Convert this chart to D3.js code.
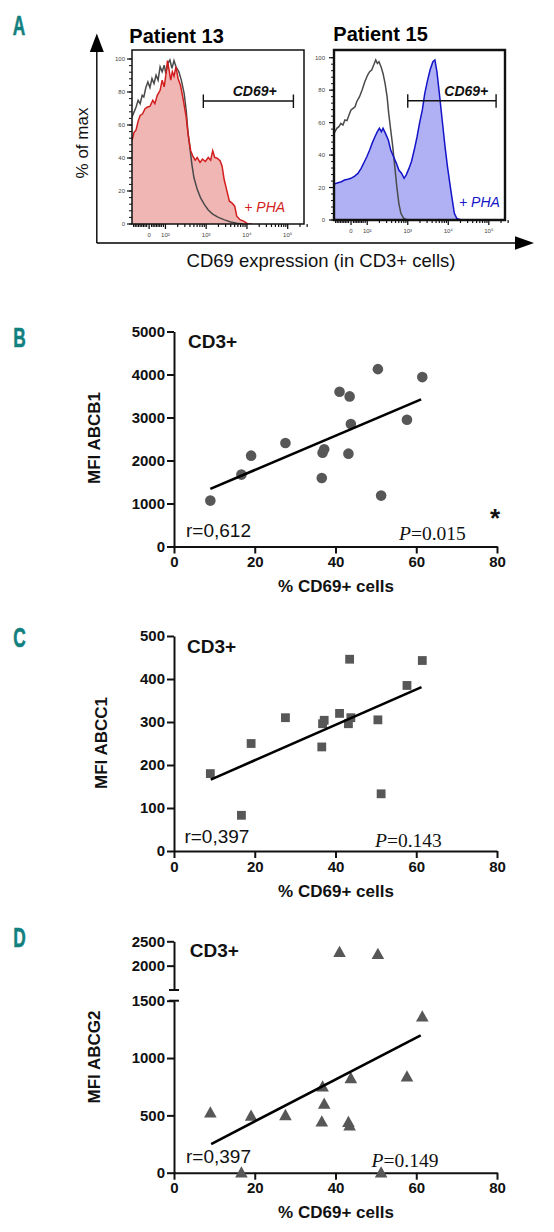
<!DOCTYPE html>
<html><head><meta charset="utf-8">
<script src="https://cdn.jsdelivr.net/npm/d3@7"></script>
<style>body{margin:0;background:#fff;} svg{display:block;} svg{font-family:"Liberation Sans",Arial,sans-serif;}</style>
</head><body>
<script>
// ---------------- DATA ----------------
// Panel A: flow histograms, x in display units (logicle decades), y in % of max
const histXTickVals = [1.6, 2, 3, 4, 5];
const histXTickLabels = ["0", "10²", "10³", "10⁴", "10⁵"];
const histYTickVals = [0, 20, 40, 60, 80, 100];
const histLinMinorTicks = [1.22, 1.26, 1.3, 1.34, 1.38, 1.42, 1.46, 1.5, 1.54, 1.66, 1.7, 1.74, 1.78, 1.82, 1.86, 1.9, 1.95];
const logMinorMultipliers = [2, 3, 4, 5, 6, 7, 8, 9];
const p13Unstim = [[1.18,64.8],[1.23,67.8],[1.28,70.9],[1.33,75],[1.38,72.9],[1.43,78],[1.47,77],[1.52,82.7],[1.57,86.1],[1.62,82.7],[1.67,88.2],[1.72,85.1],[1.77,90.2],[1.82,87.2],[1.87,95.3],[1.92,92.3],[1.97,96.3],[2.01,91.2],[2.06,97.4],[2.11,99.4],[2.16,94.3],[2.21,99],[2.26,95.3],[2.33,92.3],[2.39,87.2],[2.46,79],[2.51,68.8],[2.55,56.6],[2.6,46.4],[2.65,36],[2.7,28],[2.78,21],[2.86,16],[2.95,12],[3.05,8.5],[3.16,6],[3.3,4],[3.45,2.5],[3.6,1.2],[3.75,0.4],[3.9,0]];
const p13PHA = [[1.18,50.5],[1.23,55.6],[1.28,57],[1.33,62.3],[1.38,65.8],[1.44,66.8],[1.5,69.9],[1.56,70.9],[1.62,71.3],[1.69,75],[1.74,72.9],[1.8,78],[1.87,81],[1.92,87.2],[1.97,83.1],[2.01,90.2],[2.05,99],[2.09,93.3],[2.13,87.2],[2.17,92.3],[2.21,89.6],[2.26,95.3],[2.31,88.2],[2.37,84.1],[2.44,75],[2.51,64.8],[2.56,53.6],[2.62,44.4],[2.67,41.3],[2.73,38.7],[2.78,40.3],[2.85,37.3],[2.91,39.3],[2.98,37.9],[3.05,40.3],[3.11,38.7],[3.16,44.4],[3.21,40.3],[3.27,39.9],[3.34,38.3],[3.39,35.2],[3.44,27.1],[3.5,21],[3.57,13.8],[3.63,12.8],[3.7,10.8],[3.75,4.7],[3.83,2.6],[3.93,1.6],[4.01,0.2],[4.12,0]];
const p15Unstim = [[1.18,53.4],[1.25,56.5],[1.3,57.5],[1.35,59.5],[1.4,58.5],[1.45,61.6],[1.5,61.2],[1.55,64.7],[1.6,67.8],[1.65,68.8],[1.7,69.8],[1.74,72.9],[1.81,76],[1.88,80.5],[1.94,85.2],[2.01,89.3],[2.06,91.4],[2.11,92.4],[2.16,95.5],[2.21,98.6],[2.25,96.5],[2.29,97.5],[2.34,94.5],[2.39,90.3],[2.44,84.2],[2.49,76],[2.53,65.7],[2.58,55.4],[2.63,45.2],[2.68,32.9],[2.73,20.5],[2.78,10.3],[2.83,4.1],[2.9,1],[3.0,0]];
const p15PHA = [[1.18,22.2],[1.28,23],[1.36,23.6],[1.44,24.6],[1.52,25.1],[1.6,25.7],[1.69,27.1],[1.77,28.7],[1.85,31.8],[1.93,35.9],[1.99,39],[2.06,43.1],[2.12,47.2],[2.19,51.3],[2.25,54.4],[2.3,56.5],[2.35,54.4],[2.39,56.5],[2.45,53.4],[2.52,49.3],[2.58,43.1],[2.65,39],[2.72,34.9],[2.78,30.8],[2.85,28.7],[2.91,25.7],[2.96,27.7],[3.03,31.8],[3.09,35.9],[3.16,43.1],[3.23,51.3],[3.29,59.5],[3.36,67.8],[3.42,78],[3.49,86.2],[3.55,92.4],[3.62,97.5],[3.67,98.6],[3.72,91.4],[3.78,78],[3.85,61.6],[3.92,45.2],[3.98,32.9],[4.05,20.5],[4.1,12.3],[4.15,4.1],[4.21,1],[4.32,0]];
const gateP13 = [2.93, 5.14];
const gateP15 = [3.0, 5.18];

// Panels B-D: % CD69+ cells vs MFI
const pctCD69 = [9.0, 16.7, 19.1, 27.6, 36.6, 36.8, 37.2, 41.0, 43.2, 43.5, 43.8, 50.5, 51.3, 57.7, 61.5];
const mfiABCB1 = [1068, 1672, 2113, 2407, 1594, 2180, 2260, 3600, 2159, 3491, 2848, 4125, 1184, 2949, 3940];
const mfiABCC1 = [180, 83, 250, 310, 242, 296, 304, 320, 296, 446, 310, 305, 133, 385, 443];
const mfiABCG2 = [523, 0, 494, 500, 445, 750, 599, 2274, 440, 410, 823, 2233, 0, 837, 1360];
const fitABCB1 = [[9.0, 1339], [61.2, 3421]];
const fitABCC1 = [[9.1, 166], [61.3, 381]];
const fitABCG2 = [[9.2, 250], [61.1, 1198]];
const xTicks = [0, 20, 40, 60, 80];
const yTicksB = [0, 1000, 2000, 3000, 4000, 5000];
const yTicksC = [0, 100, 200, 300, 400, 500];
const yTicksDLow = [0, 500, 1000, 1500];
const yTicksDHigh = [2000, 2500];

// ---------------- DRAW ----------------
const svg = d3.select("body").append("svg").attr("width", 554).attr("height", 1232);
svg.append("rect").attr("width", 554).attr("height", 1232).attr("fill", "#fff");
const teal = "#12807e";
const SANS = '"Liberation Sans",Arial,sans-serif';
const SERIF = '"Liberation Serif","Times New Roman",serif';

function panelLetter(t, cx, by) {
  svg.append("text").text(t)
    .attr("transform", `translate(${cx},${by}) scale(0.64,1)`)
    .attr("text-anchor", "middle").attr("font-size", 27).attr("font-weight", "bold").attr("fill", teal)
    .attr("stroke", teal).attr("stroke-width", 0.6);
}
panelLetter("A", 19, 35);
panelLetter("B", 19.5, 347);
panelLetter("C", 19.5, 647);
panelLetter("D", 19.5, 947);

// big arrows of panel A
svg.append("line").attr("x1", 96.8).attr("x2", 96.8).attr("y1", 50).attr("y2", 243).attr("stroke", "#000").attr("stroke-width", 1.4);
svg.append("line").attr("x1", 96.8).attr("x2", 518).attr("y1", 243).attr("y2", 243).attr("stroke", "#000").attr("stroke-width", 1.4);
svg.append("path").attr("d", "M96.8,33.5 L89.8,52 L103.8,52 Z").attr("fill", "#000");
svg.append("path").attr("d", "M534,243 L515,236.3 L515,249.7 Z").attr("fill", "#000");
svg.append("text").text("% of max").attr("transform", "translate(82.5,143) rotate(-90)")
  .attr("text-anchor", "middle").attr("dominant-baseline", "central").attr("font-size", 17).attr("fill", "#111");
svg.append("text").text("CD69 expression (in CD3+ cells)").attr("x", 321).attr("y", 267)
  .attr("text-anchor", "middle").attr("font-size", 18.5).attr("fill", "#111");

function hist(o) {
  const g = svg.append("g");
  const x = d3.scaleLinear().domain([1.18, 5.4]).range([o.left, o.right]);
  const y = d3.scaleLinear().domain([0, 100]).range([o.y0, o.y100]);
  const cid = "clip" + o.id;
  svg.append("clipPath").attr("id", cid).append("rect")
    .attr("x", o.left).attr("y", o.top).attr("width", o.right - o.left).attr("height", o.y0 - o.top);
  const pg = g.append("g").attr("clip-path", `url(#${cid})`);
  const area = d3.area().x(d => x(d[0])).y0(y(0)).y1(d => y(d[1]));
  const line = d3.line().x(d => x(d[0])).y(d => y(d[1]));
  pg.append("path").attr("d", area(o.stim)).attr("fill", o.fill);
  pg.append("path").attr("d", line(o.unstim)).attr("fill", "none").attr("stroke", "#4a4a4a").attr("stroke-width", 1.5);
  pg.append("path").attr("d", line(o.stim)).attr("fill", "none").attr("stroke", o.color).attr("stroke-width", 1.5);
  // frame
  g.append("path").attr("d", `M${o.left},${o.y0} V${o.top} H${o.right} V${o.y0} Z`)
    .attr("fill", "none").attr("stroke", "#111").attr("stroke-width", o.sw);
  // y ticks
  for (let v = 0; v <= 100; v += 4) {
    g.append("line").attr("x1", o.left).attr("x2", o.left - 3).attr("y1", y(v)).attr("y2", y(v)).attr("stroke", "#111").attr("stroke-width", 1);
  }
  histYTickVals.forEach(v => {
    g.append("line").attr("x1", o.left).attr("x2", o.left - 5).attr("y1", y(v)).attr("y2", y(v)).attr("stroke", "#111").attr("stroke-width", 1.2);
    g.append("text").text(v).attr("x", o.left - o.lblGap).attr("y", y(v) + 2).attr("text-anchor", "end")
      .attr("font-size", 6).attr("fill", "#444");
  });
  // x ticks
  const minors = histLinMinorTicks.slice();
  [2, 3, 4].forEach(n => logMinorMultipliers.forEach(k => minors.push(n + Math.log10(k))));
  [5].forEach(n => [2, 3].forEach(k => minors.push(n + Math.log10(k))));
  minors.forEach(v => {
    g.append("line").attr("x1", x(v)).attr("x2", x(v)).attr("y1", o.y0).attr("y2", o.y0 + 3).attr("stroke", "#111").attr("stroke-width", 1.2);
  });
  histXTickVals.forEach((v, i) => {
    g.append("line").attr("x1", x(v)).attr("x2", x(v)).attr("y1", o.y0).attr("y2", o.y0 + 5).attr("stroke", "#111").attr("stroke-width", 1.3);
    g.append("text").text(histXTickLabels[i]).attr("x", x(v)).attr("y", o.y0 + o.xlblDy).attr("text-anchor", "middle")
      .attr("font-size", 6).attr("fill", "#444");
  });
  // gate
  const gx0 = x(o.gate[0]), gx1 = x(o.gate[1]);
  g.append("line").attr("x1", gx0).attr("x2", gx1).attr("y1", o.gateY).attr("y2", o.gateY).attr("stroke", "#111").attr("stroke-width", 1.4);
  [gx0, gx1].forEach(gx => g.append("line").attr("x1", gx).attr("x2", gx).attr("y1", o.gateY - 6.5).attr("y2", o.gateY + 7).attr("stroke", "#111").attr("stroke-width", 1.4));
  g.append("text").text("CD69+").attr("x", o.gateLblX).attr("y", 95.7).attr("font-size", 14)
    .attr("font-weight", "bold").attr("font-style", "italic").attr("fill", "#111");
  g.append("text").text("+ PHA").attr("x", o.phaX).attr("y", o.phaY).attr("font-size", 14)
    .attr("font-style", "italic").attr("fill", o.color);
  g.append("text").text(o.title).attr("x", o.titleX).attr("y", o.titleY).attr("font-size", 20)
    .attr("font-weight", "bold").attr("fill", "#000");
}

hist({ id: "p13", left: 132, right: 304, top: 50, y0: 224, y100: 59, sw: 1.5, lblGap: 7, xlblDy: 12.5,
  stim: p13PHA, unstim: p13Unstim, fill: "#f0b6b4", color: "#d21e1e", gate: gateP13, gateY: 101,
  gateLblX: 232.7, phaX: 244.3, phaY: 211.7, title: "Patient 13", titleX: 129.3, titleY: 42.7 });
hist({ id: "p15", left: 334, right: 505, top: 50, y0: 220, y100: 57.7, sw: 2.4, lblGap: 9, xlblDy: 12.5,
  stim: p15PHA, unstim: p15Unstim, fill: "#b0b0f4", color: "#1414c8", gate: gateP15, gateY: 100.7,
  gateLblX: 444.3, phaX: 459, phaY: 206.7, title: "Patient 15", titleX: 333.3, titleY: 40.7 });

// ---------------- scatter panels ----------------
function styleAxis(sel) {
  sel.select(".domain").attr("stroke", "#111").attr("stroke-width", 2);
  sel.selectAll(".tick line").attr("stroke", "#111").attr("stroke-width", 2);
  sel.selectAll(".tick text").attr("font-size", 15).attr("font-weight", "bold").attr("fill", "#111")
    .style("font-family", SANS);
}

function scatter(o) {
  const g = svg.append("g");
  const x = d3.scaleLinear().domain([0, 80]).range([174, 497]);
  let yFn;
  if (o.broken) {
    const yLo = d3.scaleLinear().domain([0, 1500]).range([o.y0, o.yBreakLo]);
    const yHi = d3.scaleLinear().domain([1500, 2500]).range([o.yBreakHi, o.yTop]);
    yFn = v => (v > 1500 ? yHi(v) : yLo(v));
    const aL = g.append("g").attr("transform", "translate(174,0)")
      .call(d3.axisLeft(yLo).tickValues(yTicksDLow).tickSize(7).tickSizeOuter(0).tickPadding(2).tickFormat(d3.format("d")));
    styleAxis(aL);
    const aH = g.append("g").attr("transform", "translate(174,0)")
      .call(d3.axisLeft(yHi).tickValues(yTicksDHigh).tickSize(7).tickSizeOuter(0).tickPadding(2).tickFormat(d3.format("d")));
    styleAxis(aH);
    [o.yBreakLo, o.yBreakHi].forEach(yy => g.append("line").attr("x1", 169).attr("x2", 179).attr("y1", yy).attr("y2", yy)
      .attr("stroke", "#111").attr("stroke-width", 2));
  } else {
    const y = d3.scaleLinear().domain([0, o.yMax]).range([o.y0, o.yTop]);
    yFn = y;
    const aY = g.append("g").attr("transform", "translate(174,0)")
      .call(d3.axisLeft(y).tickValues(o.yTicks).tickSize(7).tickSizeOuter(0).tickPadding(2).tickFormat(d3.format("d")));
    styleAxis(aY);
  }
  const aX = g.append("g").attr("transform", `translate(0,${o.y0})`)
    .call(d3.axisBottom(x).tickValues(xTicks).tickSize(7).tickSizeOuter(0).tickPadding(3));
  styleAxis(aX);

  // markers
  const mk = g.append("g").attr("fill", "#575757");
  pctCD69.forEach((px, i) => {
    const cx = x(px), cy = yFn(o.values[i]);
    if (o.marker === "circle") mk.append("circle").attr("cx", cx).attr("cy", cy).attr("r", 5.3);
    else if (o.marker === "square") mk.append("rect").attr("x", cx - 4.4).attr("y", cy - 4.4).attr("width", 8.8).attr("height", 8.8);
    else mk.append("path").attr("d", `M${cx},${cy - 6.5} L${cx - 6.3},${cy + 4.8} L${cx + 6.3},${cy + 4.8} Z`);
  });
  // fit line
  g.append("path").attr("d", d3.line().x(d => x(d[0])).y(d => yFn(d[1]))(o.fit))
    .attr("stroke", "#000").attr("stroke-width", 2.6).attr("fill", "none");

  g.append("text").text("CD3+").attr("x", o.cdX).attr("y", o.cdY).attr("font-size", 19).attr("font-weight", "bold").attr("fill", "#111");
  g.append("text").text(o.r).attr("x", o.rX).attr("y", o.rY).attr("font-size", 19).attr("fill", "#111")
    .style("font-family", SANS);
  const pt = g.append("text").attr("x", o.pX).attr("y", o.pY).attr("font-size", 19.5).attr("fill", "#111")
    .style("font-family", SERIF);
  pt.append("tspan").attr("font-style", "italic").text("P");
  pt.append("tspan").text(o.p);
  g.append("text").text(o.ylab).attr("transform", `translate(${o.ylabX},${o.ylabY}) rotate(-90)`)
    .attr("text-anchor", "middle").attr("dominant-baseline", "central").attr("font-size", 17).attr("font-weight", "bold").attr("fill", "#111");
  g.append("text").text("% CD69+ cells").attr("x", 336).attr("y", o.xlabY).attr("text-anchor", "middle")
    .attr("font-size", 17).attr("font-weight", "bold").attr("fill", "#111");
  if (o.star) g.append("text").text("*").attr("x", 495).attr("y", o.starY).attr("text-anchor", "middle")
    .attr("font-size", 26).attr("font-weight", "bold").attr("fill", "#111");
}

scatter({ values: mfiABCB1, fit: fitABCB1, marker: "circle", yMax: 5000, yTicks: yTicksB, y0: 546.5, yTop: 331.5,
  cdX: 188, cdY: 348.3, r: "r=0,612", rX: 186, rY: 536.7, p: "=0.015", pX: 399, pY: 540,
  ylab: "MFI ABCB1", ylabX: 94, ylabY: 438, xlabY: 591.7, star: true, starY: 527 });
scatter({ values: mfiABCC1, fit: fitABCC1, marker: "square", yMax: 500, yTicks: yTicksC, y0: 851, yTop: 636,
  cdX: 187, cdY: 653.3, r: "r=0,397", rX: 184.4, rY: 842.7, p: "=0.143", pX: 375, pY: 846.7,
  ylab: "MFI ABCC1", ylabX: 101, ylabY: 743, xlabY: 897 });
scatter({ values: mfiABCG2, fit: fitABCG2, marker: "triangle", broken: true, y0: 1172.7, yBreakLo: 1000.7, yBreakHi: 990, yTop: 941.3,
  cdX: 189.7, cdY: 956.7, r: "r=0,397", rX: 186, rY: 1163.3, p: "=0.149", pX: 371.6, pY: 1166.7,
  ylab: "MFI ABCG2", ylabX: 94, ylabY: 1057, xlabY: 1218 });
</script>
</body></html>
